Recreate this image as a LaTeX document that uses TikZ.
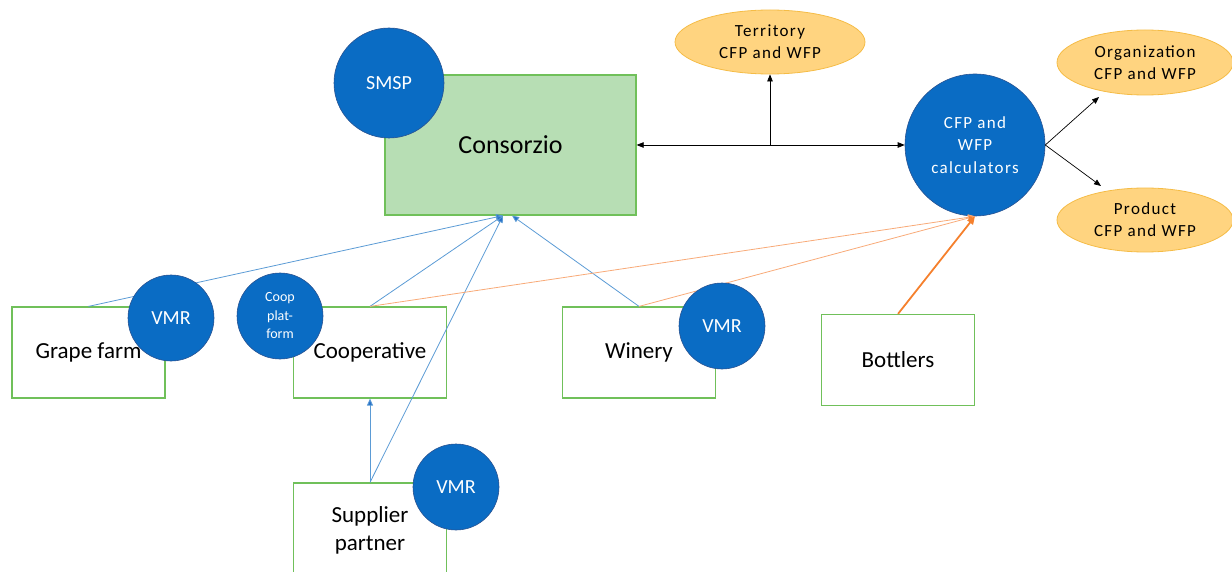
\documentclass[tikz,border=0pt]{standalone}
\usepackage{fontspec}
\setmainfont{Carlito}
\newfontfamily\spaced[LetterSpace=8]{Carlito}
\usetikzlibrary{arrows.meta,calc,shapes.geometric}

\definecolor{boxgreen}{RGB}{112,192,90}
\definecolor{consfill}{RGB}{183,222,180}
\definecolor{discblue}{RGB}{10,108,196}
\definecolor{discedge}{RGB}{40,82,145}
\definecolor{ovalfill}{RGB}{255,212,128}
\definecolor{ovaledge}{RGB}{245,188,70}
\definecolor{linkblue}{RGB}{91,155,213}
\definecolor{tipblue}{RGB}{40,112,200}
\definecolor{linkorange}{RGB}{248,170,120}
\definecolor{strongorange}{RGB}{245,128,45}

\tikzset{
  actor/.style={draw=boxgreen, line width=1.2pt, fill=white,
    minimum width=153pt, minimum height=91pt, inner sep=0pt,
    font=\fontsize{23}{28}\selectfont, align=center},
  disc/.style={circle, fill=discblue, draw=discedge, line width=0.6pt,
    minimum size=86pt, inner sep=0pt, text=white,
    font=\fontsize{20}{24}\selectfont, align=center},
  oval/.style={ellipse, fill=ovalfill, draw=ovaledge, line width=0.8pt,
    inner sep=0pt, font=\spaced\fontsize{17}{22}\selectfont, align=center},
  flow/.style={draw=black, line width=0.7pt,
    -{Triangle[length=7pt,width=5.5pt]}},
  twoway/.style={draw=black, line width=0.7pt,
    {Triangle[length=7pt,width=5.5pt]}-{Triangle[length=7pt,width=5.5pt]}},
  bluelink/.style={draw=linkblue, line width=0.8pt,
    -{Triangle[length=7pt,width=6pt,fill=tipblue]}},
  orangelink/.style={draw=linkorange, line width=0.8pt,
    -{Triangle[length=7pt,width=6pt,fill=strongorange]}},
  boldorange/.style={draw=strongorange, line width=1.8pt,
    -{Triangle[length=8pt,width=7pt]}}
}

\begin{document}
\begin{tikzpicture}[x=1pt,y=-1pt]
\useasboundingbox (0,0) rectangle (1232,572);

% consortium box and the actors
\node[draw=boxgreen, line width=1.2pt, fill=consfill, minimum width=251pt,
  minimum height=140pt, inner sep=0pt, font=\fontsize{26}{30}\selectfont]
  (cons) at (510.5,145) {Consorzio};
\node[actor] (grape) at (88.5,352.5) {Grape farm};
\node[actor] (coop) at (370,352.5) {Cooperative};
\node[actor] (winery) at (639,352.5) {Winery};
\node[actor] (bottlers) at (898,360) {Bottlers};
\node[actor, minimum height=94pt] (supplier) at (370,530) {Supplier\\partner};

% footprint outputs
\node[oval, minimum width=190pt, minimum height=64pt] (terr) at (770,42)
  {Territory\\CFP and WFP};
\node[oval, minimum width=176pt, minimum height=65pt] (org) at (1145,62.5)
  {Organization\\CFP and WFP};
\node[oval, minimum width=176pt, minimum height=64pt] (prod) at (1145,220)
  {Product\\CFP and WFP};

% calculators
\node[ellipse, fill=discblue, draw=discedge, line width=0.6pt,
  minimum width=140pt, minimum height=142pt, inner sep=0pt, text=white,
  font=\spaced\fontsize{17}{22.5}\selectfont, align=center]
  (calc) at (975,145) {CFP and\\WFP\\calculators};

% connectors
\coordinate (split) at (770,145);
\coordinate (orgend) at (1099,97);
\coordinate (prodend) at (1101,186);
\coordinate (consinA) at ($(cons.south)+(-7.5,0)$);
\coordinate (consinB) at ($(cons.south)+(1.5,0)$);

\draw[twoway] (cons.east) -- (calc.west);
\draw[flow] (split) -- (terr.south);
\draw[flow] (calc.east) -- (orgend);
\draw[flow] (calc.east) -- (prodend);

\draw[bluelink] (grape.north) -- (consinA);
\draw[bluelink] (coop.north) -- (consinA);
\draw[bluelink] (supplier.north) -- (consinA);
\draw[bluelink] (winery.north) -- (consinB);
\draw[bluelink] (supplier.north) -- (coop.south);

\draw[orangelink] (coop.north) -- (calc.south);
\draw[orangelink] (winery.north) -- (calc.south);
\draw[boldorange] (bottlers.north) -- (calc.south);

% system discs on top
\node[disc, minimum size=110pt] (smsp) at (389,83) {SMSP};
\node[disc] (vmrgrape) at (171,318) {VMR};
\node[disc, font=\fontsize{14}{18.5}\selectfont] (platform) at (280,316)
  {Coop\\plat-\\form};
\node[disc] (vmrwinery) at (722,326) {VMR};
\node[disc] (vmrsupplier) at (456,487) {VMR};
\end{tikzpicture}
\end{document}
